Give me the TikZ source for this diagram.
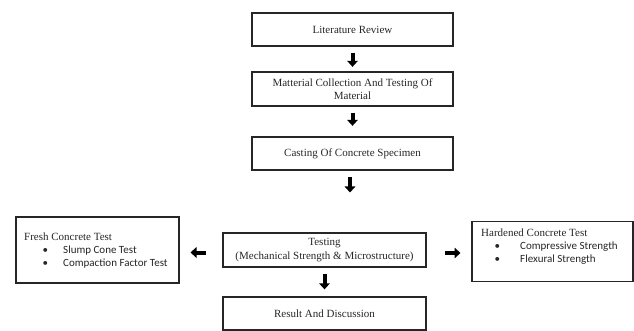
\documentclass[tikz,border=0pt]{standalone}
\usepackage{fontspec}
\setmainfont{Liberation Serif}
\newfontfamily\bulletfont{Carlito}
\usetikzlibrary{arrows.meta}
\tikzset{
  flowbox/.style={draw=black!85, line width=1.3pt, minimum width=201pt, minimum height=33pt,
    inner sep=2pt, align=center, font=\fontsize{11}{13.5}\selectfont, text=black!85},
  sidebox/.style={draw=black!85, line width=1.3pt, inner sep=0pt},
  txt/.style={inner sep=0pt, anchor=base west, font=\fontsize{11}{13}\selectfont, text=black!85},
  btxt/.style={inner sep=0pt, anchor=base west, font=\bulletfont\fontsize{11}{13}\selectfont, text=black!85},
  blk/.style={line width=4pt, draw=black, -{Triangle[width=10.5pt,length=6pt]}}
}
\begin{document}
\begin{tikzpicture}[x=1pt,y=-1pt]
\useasboundingbox (0,0) rectangle (634,331);
% main column
\node[flowbox] (lit) at (352.5,29.5) {Literature Review};
\node[flowbox, minimum height=34pt] (mat) at (352.5,89) {Matterial Collection And Testing Of\\Material};
\node[flowbox] (cast) at (352.5,153.5) {Casting Of Concrete Specimen};
\node[flowbox, minimum width=203pt, minimum height=34pt] (test) at (324.5,250) {Testing\\(Mechanical Strength \& Microstructure)};
\node[flowbox, minimum width=203pt] (res) at (324.5,313.5) {Result And Discussion};
% side boxes
\node[sidebox, minimum width=163pt, minimum height=66pt] (fresh) at (97.5,250) {};
\node[txt] (f0) at (24,240.5) {Fresh Concrete Test};
\node[btxt] (f1b) at (42.5,253.5) {•};
\node[btxt] (f1) at (63,253.5) {Slump Cone Test};
\node[btxt] (f2b) at (42.5,266.5) {•};
\node[btxt] (f2) at (63,266.5) {Compaction Factor Test};
\node[sidebox, minimum width=161pt, minimum height=60pt] (hard) at (552.5,251.5) {};
\node[txt] (h0) at (481,236.5) {Hardened Concrete Test};
\node[btxt] (h1b) at (494.5,249) {•};
\node[btxt] (h1) at (520,249) {Compressive Strength};
\node[btxt] (h2b) at (494.5,262) {•};
\node[btxt] (h2) at (520,262) {Flexural Strength};
% arrows
\draw[blk, shorten <=6pt, shorten >=4.5pt] (lit) -- (mat);
\draw[blk, shorten <=6pt, shorten >=10.5pt] (mat) -- (cast);
\coordinate (c3) at (350,192.5);
\draw[blk] ([xshift=-2.5pt,yshift=-6.5pt]cast.south) -- (c3);
\draw[blk, shorten <=6pt, shorten >=7pt] (test) -- (res);
\coordinate (la) at (190.5,252.5);
\draw[blk] ([xshift=-16.5pt,yshift=-2.5pt]test.west) -- (la);
\coordinate (ra) at (460.5,253);
\draw[blk] ([xshift=18.5pt,yshift=-3pt]test.east) -- (ra);
\end{tikzpicture}
\end{document}
